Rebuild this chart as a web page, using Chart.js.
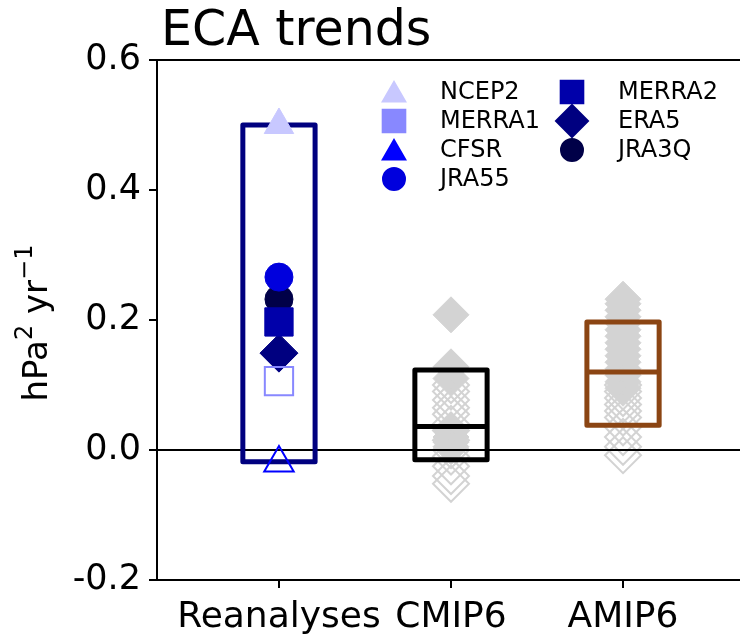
<!DOCTYPE html>
<html>
<head>
<meta charset="utf-8">
<script src="https://cdn.jsdelivr.net/npm/chart.js@4.4.0/dist/chart.umd.min.js"></script>
<style>
  html, body { margin: 0; padding: 0; background: #fff; }
  #wrap { width: 740px; height: 636px; }
</style>
</head>
<body>
<div id="wrap"><canvas id="chart" width="740" height="636"></canvas></div>
<script>
// categories on the x axis
const categories = ["Reanalyses", "CMIP6", "AMIP6"];
const yTicks = [-0.2, 0.0, 0.2, 0.4, 0.6];

// reanalysis trends (hPa^2 / yr)
const reanalysisNames = ["NCEP2", "MERRA1", "CFSR", "JRA55", "MERRA2", "ERA5", "JRA3Q"];
const reanalysisTrends = [0.5, 0.106, -0.02, 0.266, 0.197, 0.149, 0.232];
const reanalysisHollow = [false, true, true, false, false, false, false];

// model trends, filled and open diamonds
const cmip6Filled = [0.208, 0.128, 0.11, 0.03, 0.02, 0.012, 0.005];
const cmip6Open = [0.1, 0.09, 0.077, 0.065, 0.055, 0.04, 0.03, 0.015, 0.0, -0.01, -0.025, -0.04, -0.052];
const amip6Filled = [0.232, 0.225, 0.215, 0.205, 0.195, 0.185, 0.175, 0.165, 0.155, 0.145, 0.135, 0.125, 0.115, 0.105, 0.095];
const amip6Open = [0.1, 0.09, 0.08, 0.07, 0.06, 0.05, 0.035, 0.02, 0.005, -0.008];

// boxes
const boxLow = [-0.018, -0.015, 0.038];
const boxHigh = [0.5, 0.123, 0.197];
const boxMedian = [null, 0.036, 0.12];

// styles
const reColors = ["#c8c8ff", "#8888ff", "#0000ff", "#0000dd", "#0000aa", "#000080", "#000048"];
const reShapes = ["triangle", "rect", "triangle", "circle", "rect", "rectRot", "circle"];
const shapeRadius = { triangle: 17, rect: 20, circle: 14, rectRot: 19 };
const legendRadius = { triangle: 13, rect: 16, circle: 11, rectRot: 16 };
const boxColors = ["#00007f", "#000000", "#8b4513"];
const gray = "#d3d3d3";
const boxHalf = 0.21;
const FONT = "'DejaVu Sans', sans-serif";

const datasets = [];

// reanalysis markers (on top)
reanalysisNames.forEach((name, i) => {
  const col = reColors[i];
  datasets.push({
    type: "scatter",
    label: name,
    data: [{ x: 0, y: reanalysisTrends[i] }],
    pointStyle: reShapes[i],
    pointRadius: shapeRadius[reShapes[i]],
    backgroundColor: reanalysisHollow[i] ? "rgba(0,0,0,0)" : col,
    borderColor: col,
    borderWidth: reanalysisHollow[i] ? 2 : 1,
    order: 1,
  });
});

// boxes and medians
categories.forEach((c, i) => {
  datasets.push({
    type: "line",
    label: c + " box",
    data: [
      { x: i - boxHalf, y: boxLow[i] },
      { x: i + boxHalf, y: boxLow[i] },
      { x: i + boxHalf, y: boxHigh[i] },
      { x: i - boxHalf, y: boxHigh[i] },
      { x: i - boxHalf, y: boxLow[i] },
    ],
    borderColor: boxColors[i],
    borderWidth: 5,
    borderJoinStyle: "round",
    pointRadius: 0,
    tension: 0,
    fill: false,
    order: 2,
  });
  if (boxMedian[i] !== null) {
    datasets.push({
      type: "line",
      label: c + " median",
      data: [{ x: i - boxHalf, y: boxMedian[i] }, { x: i + boxHalf, y: boxMedian[i] }],
      borderColor: boxColors[i],
      borderWidth: 5,
      pointRadius: 0,
      order: 2,
    });
  }
});

// zero line
datasets.push({
  type: "line",
  label: "zero",
  data: [{ x: -1, y: 0 }, { x: 3, y: 0 }],
  borderColor: "#000",
  borderWidth: 2,
  pointRadius: 0,
  order: 3,
});

// model diamonds
[[cmip6Filled, cmip6Open, 1], [amip6Filled, amip6Open, 2]].forEach(([filled, open, xi]) => {
  datasets.push({
    type: "scatter",
    label: categories[xi] + " open",
    data: open.map((v) => ({ x: xi, y: v })),
    pointStyle: "rectRot",
    pointRadius: 18,
    backgroundColor: "rgba(0,0,0,0)",
    borderColor: gray,
    borderWidth: 2,
    order: 4,
  });
  datasets.push({
    type: "scatter",
    label: categories[xi] + " filled",
    data: filled.map((v) => ({ x: xi, y: v })),
    pointStyle: "rectRot",
    pointRadius: 18,
    backgroundColor: gray,
    borderColor: gray,
    borderWidth: 1,
    order: 4,
  });
});

const decorPlugin = {
  id: "decor",
  afterDraw(chart) {
    const ctx = chart.ctx;
    const a = chart.chartArea;
    ctx.save();
    // top spine
    ctx.strokeStyle = "#000";
    ctx.lineWidth = 2;
    ctx.beginPath();
    ctx.moveTo(a.left, a.top);
    ctx.lineTo(a.right, a.top);
    ctx.stroke();
    // title
    ctx.fillStyle = "#000";
    ctx.font = "49px " + FONT;
    ctx.textBaseline = "alphabetic";
    ctx.textAlign = "left";
    ctx.fillText("ECA trends", a.left + 4, a.top - 15);

    // y axis label with superscripts
    const parts = [["hPa", 34, 0], ["2", 24, 15], [" yr", 34, 0], ["\u22121", 24, 15]];
    let total = 0;
    parts.forEach((p) => { ctx.font = p[1] + "px " + FONT; total += ctx.measureText(p[0]).width; });
    ctx.translate(47, (a.top + a.bottom) / 2 + 3);
    ctx.rotate(-Math.PI / 2);
    let px = -total / 2;
    parts.forEach((p) => {
      ctx.font = p[1] + "px " + FONT;
      ctx.fillText(p[0], px, -p[2]);
      px += ctx.measureText(p[0]).width;
    });
    ctx.setTransform(1, 0, 0, 1, 0, 0);

    // legend, two columns
    ctx.font = "24px " + FONT;
    ctx.textBaseline = "middle";
    reanalysisNames.forEach((name, i) => {
      const colIdx = i < 4 ? 0 : 1;
      const row = i < 4 ? i : i - 4;
      const mx = a.left + (colIdx === 0 ? 237 : 415);
      const my = a.top + 32 + row * 29;
      const shape = reShapes[i];
      ctx.fillStyle = reColors[i];
      ctx.strokeStyle = reColors[i];
      Chart.helpers.drawPoint(ctx, { pointStyle: shape, radius: legendRadius[shape], rotation: 0, borderWidth: 1 }, mx, my + (shape === "triangle" ? 3 : 0));
      ctx.fillStyle = "#000";
      ctx.fillText(name, mx + 46, my + 1);
    });
    ctx.restore();
  },
};

new Chart(document.getElementById("chart"), {
  type: "scatter",
  data: { datasets: datasets },
  plugins: [decorPlugin],
  options: {
    responsive: false,
    animation: false,
    layout: { autoPadding: false, padding: { top: 60, right: 0, left: 0, bottom: 0 } },
    plugins: { legend: { display: false }, tooltip: { enabled: false }, title: { display: false } },
    scales: {
      x: {
        type: "linear",
        min: -0.709,
        max: 2.68,
        afterBuildTicks: (axis) => { axis.ticks = categories.map((c, i) => ({ value: i })); },
        afterFit: (axis) => { axis.height = 56; axis.paddingLeft = 0; axis.paddingRight = 0; },
        ticks: {
          callback: (v) => categories[v],
          font: { family: FONT, size: 36 },
          color: "#000",
          padding: 8,
          maxRotation: 0,
          autoSkip: false,
        },
        grid: { display: true, drawOnChartArea: false, drawTicks: true, tickLength: 8, color: "#000", lineWidth: 2 },
        border: { display: true, color: "#000", width: 2 },
      },
      y: {
        type: "linear",
        min: -0.2,
        max: 0.6,
        afterBuildTicks: (axis) => { axis.ticks = yTicks.map((v) => ({ value: v })); },
        afterFit: (axis) => { axis.width = 157; axis.paddingTop = 0; axis.paddingBottom = 0; },
        ticks: {
          callback: (v) => v.toFixed(1),
          font: { family: FONT, size: 35 },
          color: "#000",
          padding: 8,
        },
        grid: { display: true, drawOnChartArea: false, drawTicks: true, tickLength: 8, color: "#000", lineWidth: 2 },
        border: { display: true, color: "#000", width: 2 },
      },
    },
  },
});
</script>
</body>
</html>
